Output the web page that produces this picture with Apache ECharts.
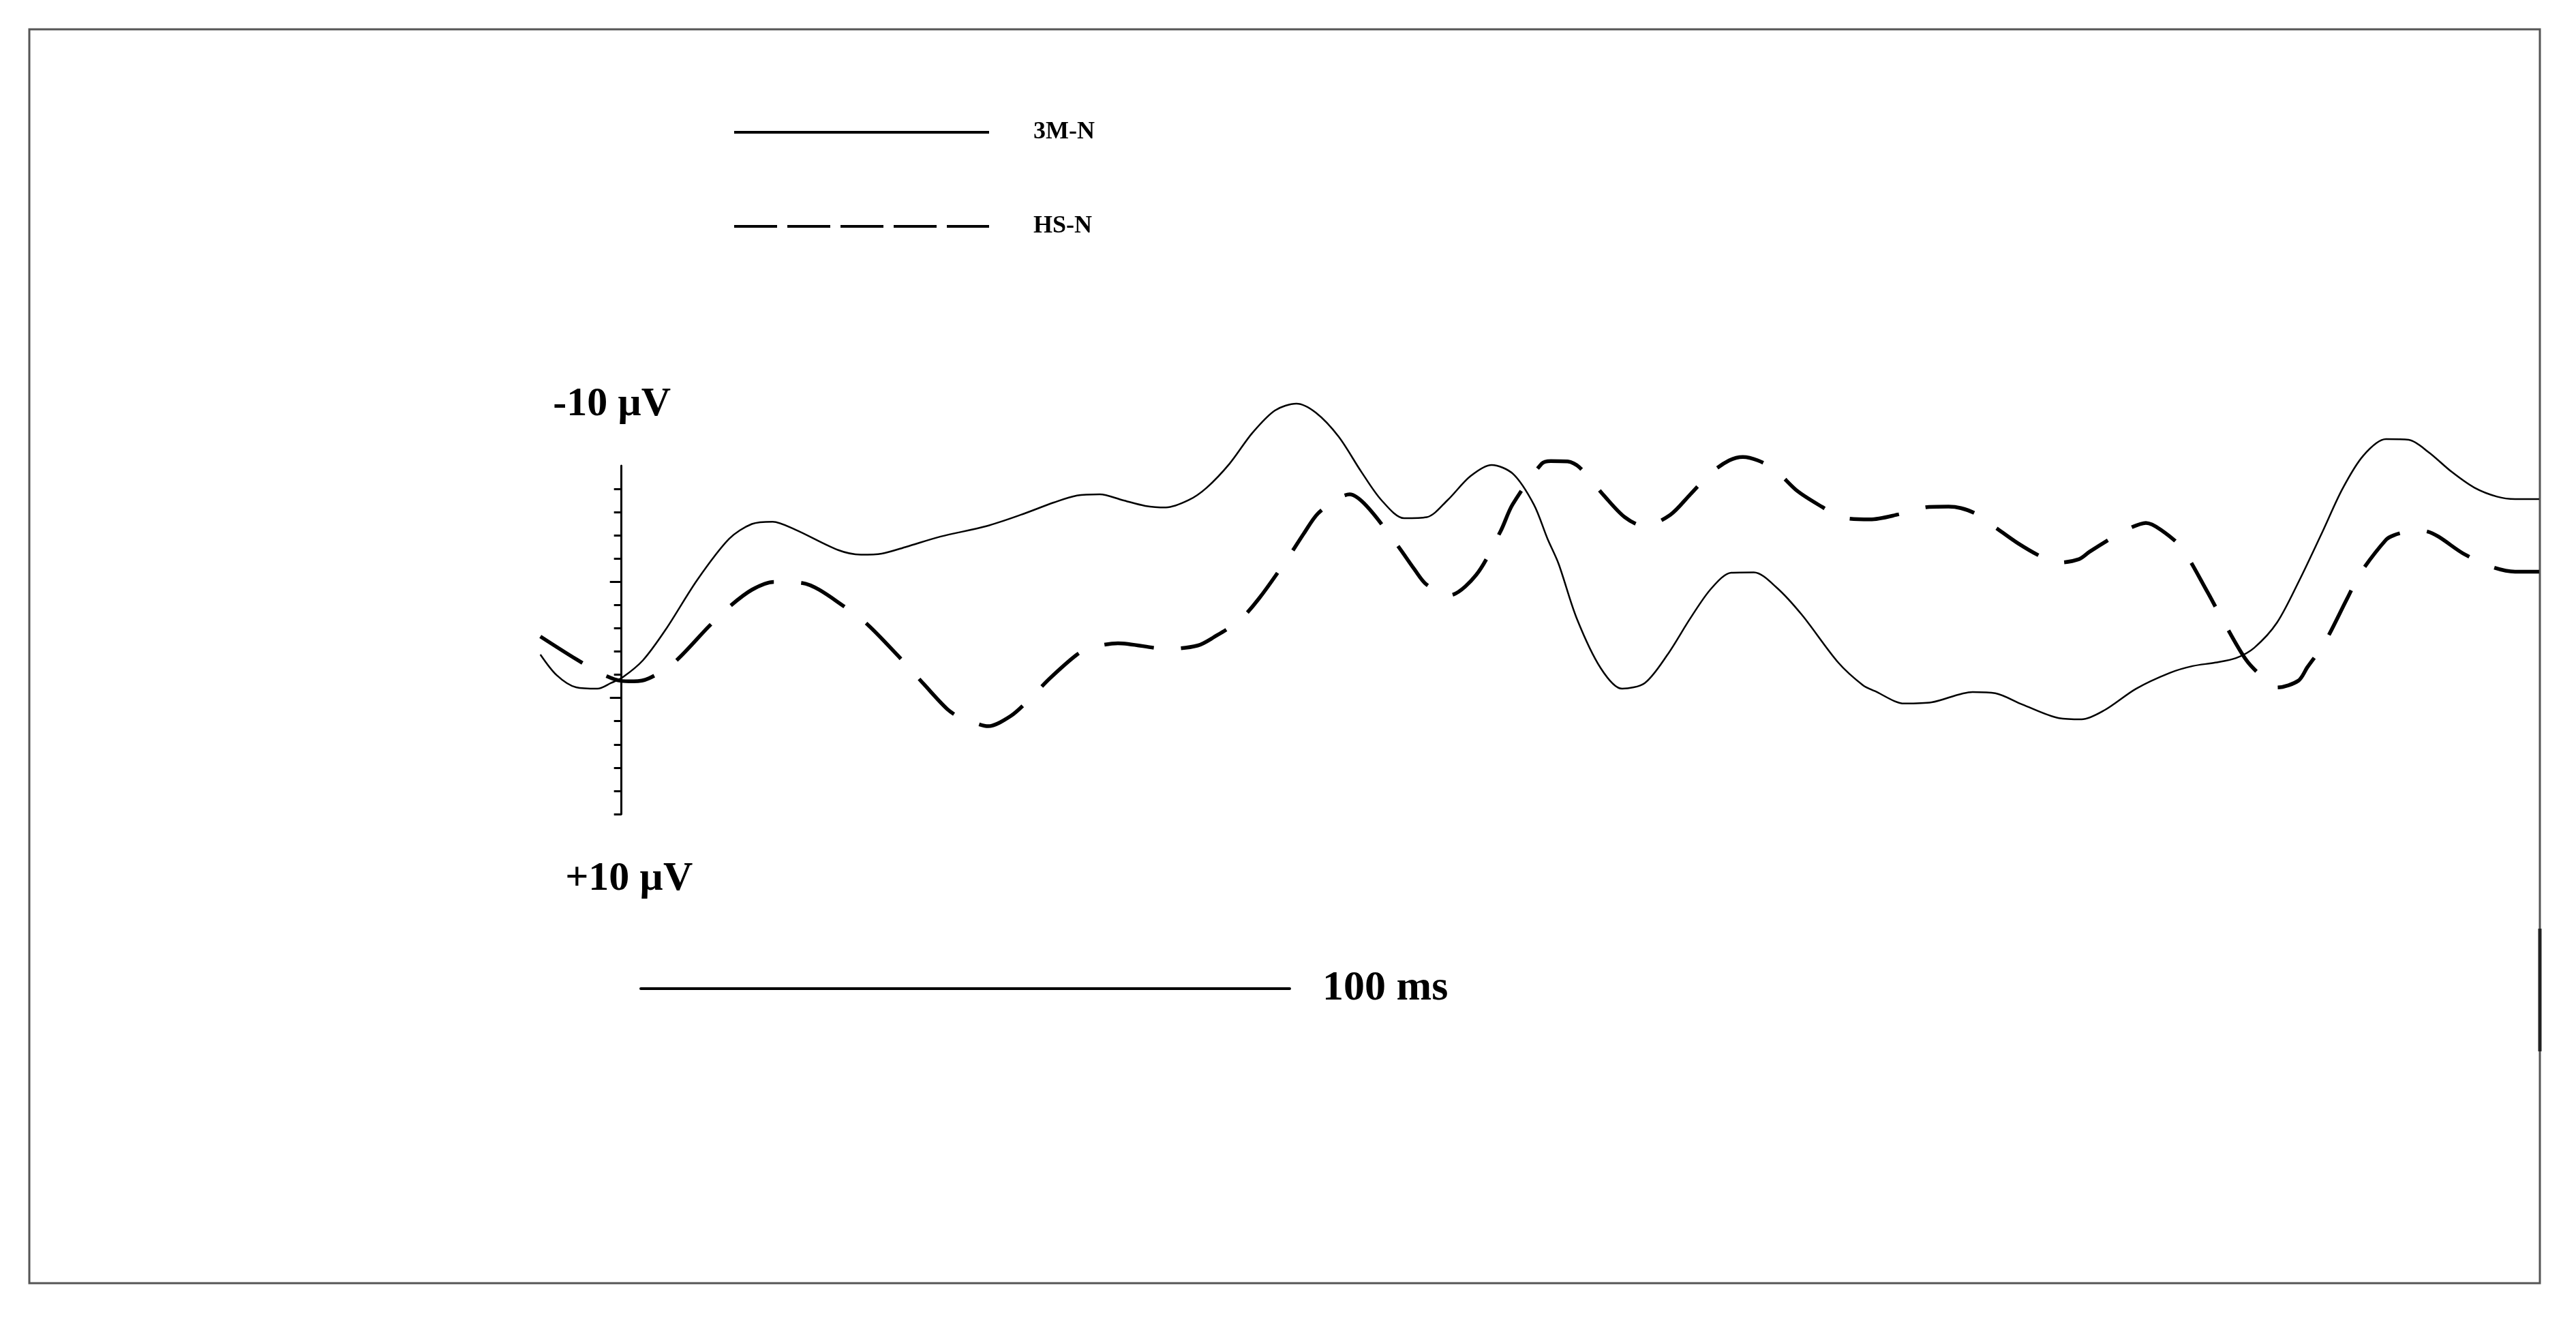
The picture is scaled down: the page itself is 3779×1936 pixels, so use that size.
<!DOCTYPE html>
<html>
<head>
<meta charset="utf-8">
<script src="https://cdn.jsdelivr.net/npm/echarts@6/dist/echarts.min.js"></script>
<style>
html,body{margin:0;padding:0;background:#fff;}
#c{width:3779px;height:1936px;}
</style>
</head>
<body>
<div id="c"></div>
<script>
// ---- data (time in ms, amplitude in µV; negative plotted upward) ----
const seriesNames = ['3M-N', 'HS-N'];

const time3MN = [-12.5,-10.0,-7.0,-3.7,-1.6,0.2,3.3,6.8,11.7,16.6,20.1,23.3,26.8,33.4,36.9,40.1,43.9,49.2,56.2,61.5,66.7,70.2,73.7,77.2,80.7,83.9,87.4,90.2,93.7,97.2,100.7,104.0,107.0,110.5,114.0,117.1,120.6,124.1,127.3,130.8,134.1,137.4,140.6,142.7,144.4,147.2,150.9,154.2,157.7,161.2,164.7,167.9,171.0,174.5,178.0,181.9,187.5,191.3,193.1,197.7,201.9,208.2,211.7,215.9,221.5,225.0,228.5,233.4,238.6,242.1,245.6,248.8,251.6,255.1,258.6,262.1,265.2,268.4,271.9,275.4,278.5,282.0,285.5,289.0,291.8,295.5];
const val3MN = [0.84,2.02,2.72,2.80,2.47,2.14,1.17,-0.59,-3.46,-5.81,-6.66,-6.79,-6.33,-5.16,-4.90,-4.96,-5.35,-5.94,-6.53,-7.18,-7.90,-8.29,-8.36,-8.03,-7.70,-7.61,-8.03,-8.75,-10.12,-11.88,-13.18,-13.57,-13.05,-11.68,-9.66,-8.03,-6.99,-7.05,-8.03,-9.40,-10.05,-9.53,-7.77,-5.81,-4.38,-1.24,1.62,2.80,2.47,0.84,-1.24,-2.94,-3.86,-3.88,-3.01,-1.44,1.30,2.60,2.93,3.65,3.58,2.99,3.06,3.71,4.49,4.56,4.04,2.80,1.89,1.50,1.30,1.04,0.45,-0.99,-3.46,-6.20,-8.68,-10.58,-11.53,-11.49,-10.77,-9.66,-8.75,-8.23,-8.09,-8.09];

const timeHSN = [-12.5,-7.0,-3.0,-0.2,1.9,4.2,8.1,13.5,16.6,20.1,23.5,27.8,34.7,38.2,43.6,46.6,50.2,52.3,54.4,56.5,60.0,62.9,66.0,70.2,72.3,76.5,84.2,88.8,91.2,95.2,98.2,102.8,105.2,107.3,110.6,112.2,114.8,119.6,122.2,124.0,127.5,131.7,135.5,137.3,141.8,143.2,145.8,147.6,151.4,154.6,157.6,161.6,164.7,167.9,170.7,172.8,175.1,177.7,181.2,185.0,187.9,192.4,196.8,201.5,204.5,206.4,208.7,211.7,215.2,219.0,221.5,224.6,226.2,230.0,232.3,234.9,237.2,240.4,244.4,246.5,250.4,253.5,255.1,258.4,259.8,262.4,265.9,268.0,271.9,273.1,275.0,277.5,284.1,288.3,291.8,295.5];
const valHSN = [-0.20,1.10,1.95,2.34,2.38,2.21,1.30,-0.79,-1.90,-2.88,-3.33,-3.27,-1.83,-0.79,1.30,2.54,3.97,4.49,4.76,4.95,4.36,3.39,2.21,0.84,0.45,0.19,0.52,0.32,-0.14,-1.12,-2.36,-4.77,-6.14,-7.25,-8.16,-8.36,-7.70,-5.42,-4.05,-3.20,-2.55,-3.73,-6.27,-7.77,-10.12,-10.27,-10.25,-9.92,-8.29,-7.05,-6.53,-7.18,-8.36,-9.60,-10.31,-10.51,-10.31,-9.79,-8.55,-7.64,-7.05,-6.92,-7.21,-7.64,-7.66,-7.57,-7.25,-6.47,-5.55,-4.74,-4.44,-4.64,-5.06,-5.94,-6.40,-6.72,-6.33,-5.29,-2.75,-1.31,1.17,2.34,2.73,2.34,1.56,0.19,-2.36,-3.86,-5.75,-6.01,-6.20,-6.27,-4.90,-4.18,-3.92,-3.92];

// calibration bar texts and ticks
const calibTopLabel = '-10 µV';
const calibBottomLabel = '+10 µV';
const calibMinorTicks = [0,1,2,3,4,6,7,8,9,11,12,13,14];
const calibMajorTicks = [5,10];
const scaleBarMs = 100;
const scaleBarLabel = '100 ms';

// ---- chart ----
const font = "'Liberation Serif', 'Times New Roman', serif";
const chart = echarts.init(document.getElementById('c'), null, {renderer: 'canvas', width: 3779, height: 1936});
const toPairs = (t, v) => t.map((x, i) => [x, v[i]]);
const hiddenSymbol = {opacity: 0, color: 'rgba(0,0,0,0)', borderWidth: 0};

const option = {
  backgroundColor: '#ffffff',
  animation: false,
  grid: [
    {left: 792.7, top: 581, width: 2932.2, height: 613},
    {left: 911.7, top: 683, width: 1, height: 511},
    {left: 940, top: 1449, width: 952, height: 1}
  ],
  xAxis: [
    {gridIndex: 0, type: 'value', min: -12.5, max: 295.5, show: false},
    {gridIndex: 1, type: 'value', min: 0, max: 1, show: false},
    {gridIndex: 2, type: 'value', min: 0, max: scaleBarMs, position: 'bottom',
      axisLine: {show: true, onZero: false, lineStyle: {color: '#000', width: 4}},
      axisTick: {show: false}, axisLabel: {show: false}, splitLine: {show: false},
      name: scaleBarLabel, nameLocation: 'end', nameGap: 48,
      nameTextStyle: {fontFamily: font, fontWeight: 'bold', fontSize: 62, color: '#000'}}
  ],
  yAxis: [
    {gridIndex: 0, type: 'value', min: -14, max: 10, inverse: true, show: false},
    {gridIndex: 1, type: 'value', min: 0, max: 15, position: 'left',
      axisLine: {show: true, onZero: false, lineStyle: {color: '#000', width: 3}},
      axisTick: {show: true, length: 11, customValues: calibMinorTicks, lineStyle: {color: '#000', width: 3}},
      axisLabel: {show: false}, splitLine: {show: false},
      name: calibTopLabel, nameLocation: 'end', nameGap: 60,
      nameTextStyle: {fontFamily: font, fontWeight: 'bold', fontSize: 60, color: '#000', padding: [0, 28, 0, 0]}},
    {gridIndex: 1, type: 'value', min: 0, max: 15, position: 'left',
      axisLine: {show: false, onZero: false},
      axisTick: {show: true, length: 17, customValues: calibMajorTicks, lineStyle: {color: '#000', width: 3}},
      axisLabel: {show: false}, splitLine: {show: false},
      name: calibBottomLabel, nameLocation: 'start', nameGap: 65,
      nameTextStyle: {fontFamily: font, fontWeight: 'bold', fontSize: 60, color: '#000', padding: [0, 0, 0, 22]}},
    {gridIndex: 2, type: 'value', min: 0, max: 1, show: false}
  ],
  legend: [
    {data: [{name: seriesNames[0], lineStyle: {width: 4, type: 'solid', color: '#000'}, itemStyle: hiddenSymbol}],
      left: 1075, top: 176, orient: 'vertical', padding: 0, itemWidth: 374, itemHeight: 14,
      selectedMode: false, itemStyle: hiddenSymbol,
      textStyle: {fontFamily: font, fontWeight: 'bold', fontSize: 36, color: '#000', padding: [0, 0, 0, 60]}},
    {data: [{name: seriesNames[1], lineStyle: {width: 4, type: [63, 15], color: '#000'}, itemStyle: hiddenSymbol}],
      left: 1075, top: 314, orient: 'vertical', padding: 0, itemWidth: 374, itemHeight: 14,
      selectedMode: false, itemStyle: hiddenSymbol,
      textStyle: {fontFamily: font, fontWeight: 'bold', fontSize: 36, color: '#000', padding: [0, 0, 0, 60]}}
  ],
  graphic: [
    {type: 'rect', silent: true, z: -1, shape: {x: 43, y: 43, width: 3683, height: 1839},
      style: {fill: 'none', stroke: '#555', lineWidth: 3}},
    {type: 'line', silent: true, shape: {x1: 3726, y1: 1362, x2: 3726, y2: 1542},
      style: {stroke: '#222', lineWidth: 5}}
  ],
  series: [
    {name: seriesNames[0], type: 'line', xAxisIndex: 0, yAxisIndex: 0,
      data: toPairs(time3MN, val3MN), symbol: 'none', smooth: 0.3, clip: false, silent: true,
      lineStyle: {color: '#000', width: 2.5}, itemStyle: {color: '#000'}},
    {name: seriesNames[1], type: 'line', xAxisIndex: 0, yAxisIndex: 0,
      data: toPairs(timeHSN, valHSN), symbol: 'none', smooth: 0.3, clip: false, silent: true,
      lineStyle: {color: '#000', width: 5.5, type: [73, 40]}, itemStyle: {color: '#000'}}
  ]
};
chart.setOption(option);
</script>
</body>
</html>
